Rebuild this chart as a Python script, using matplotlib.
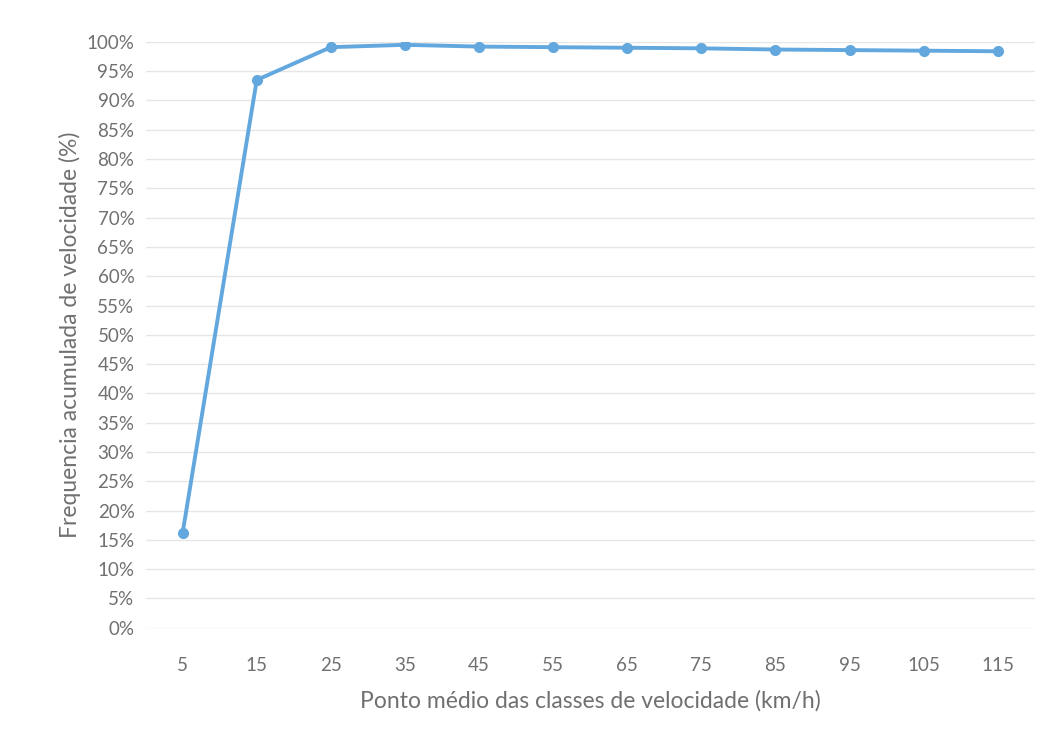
import matplotlib
matplotlib.use("Agg")
import matplotlib.pyplot as plt
import numpy as np

# dados
classes = ["5", "15", "25", "35", "45", "55", "65", "75", "85", "95", "105", "115"]
freq_acum = [16.2, 93.5, 99.1, 99.5, 99.2, 99.1, 99.0, 98.9, 98.7, 98.6, 98.5, 98.4]
y_ticks = list(range(0, 101, 5))

plt.rcParams['font.family'] = ['Lato', 'DejaVu Sans']

fig = plt.figure(figsize=(10.4, 7.35), dpi=100)
ax = fig.add_axes([0.14, 0.146, 0.855, 0.797])

x = np.arange(len(classes))
ax.plot(x, freq_acum, color="#62A8DE", linewidth=2.8, marker="o", markersize=7,
        zorder=3)

ax.set_xlim(-0.5, len(classes) - 0.5)
ax.set_ylim(0, 100)
ax.set_yticks(y_ticks)
ax.set_yticklabels([f"{v}%" for v in y_ticks])
ax.set_xticks(x)
ax.set_xticklabels(classes)

ax.grid(True, axis="y", color="#E6E6E6", linewidth=1)
ax.set_axisbelow(True)
for s in ax.spines.values():
    s.set_visible(False)
ax.tick_params(length=0, labelsize=13.5, colors="#707070", pad=8)
ax.tick_params(axis="x", pad=21)

ax.set_xlabel("Ponto médio das classes de velocidade (km/h)", fontsize=16.5,
              color="#707070", labelpad=12)
ax.set_ylabel("Frequencia acumulada de velocidade (%)", fontsize=16.5,
              color="#707070", labelpad=4)

fig.savefig("out.png", dpi=100)
